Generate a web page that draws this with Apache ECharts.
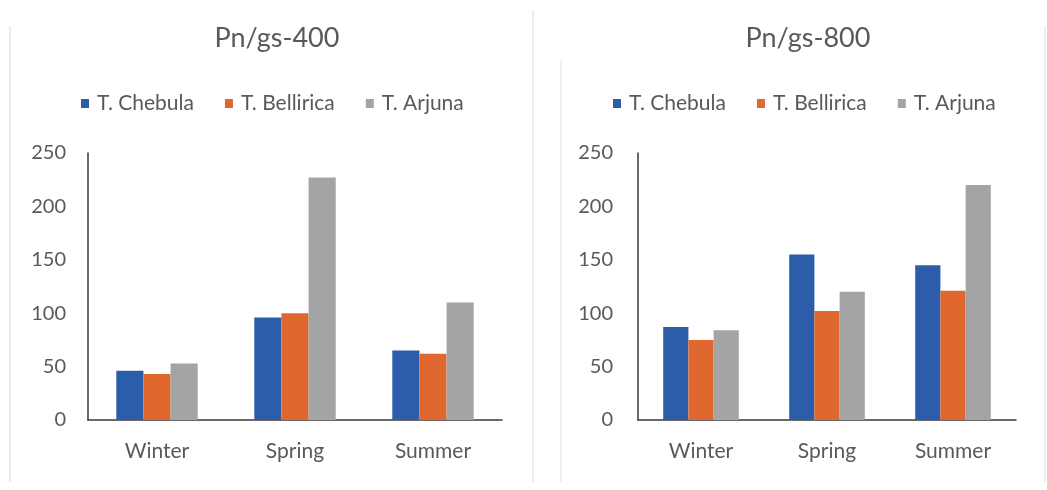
<!DOCTYPE html>
<html>
<head>
<meta charset="utf-8">
<script src="https://cdn.jsdelivr.net/npm/echarts@6/dist/echarts.min.js"></script>
<style>
  html, body { margin: 0; padding: 0; background: #ffffff; }
  #chart { width: 1047px; height: 490px; }
</style>
</head>
<body>
<div id="chart"></div>
<script>
// Seasons on the x axis
const seasons = ['Winter', 'Spring', 'Summer'];
const speciesNames = ['T. Chebula', 'T. Bellirica', 'T. Arjuna'];

// Pn/gs at 400
const chebula400 = [46, 96, 65];
const bellirica400 = [43, 100, 62];
const arjuna400 = [53, 227, 110];

// Pn/gs at 800
const chebula800 = [87, 155, 145];
const bellirica800 = [75, 102, 121];
const arjuna800 = [84, 120, 220];

const panelTitles = ['Pn/gs-400', 'Pn/gs-800'];
const yTicks = { min: 0, max: 250, interval: 50 };

const colors = ['#2c5dab', '#e0682f', '#a4a4a4'];
const textColor = '#595959';
const fontFamily = 'Lato, "Open Sans", sans-serif';

const grids = [
  { left: 88, right: 545, top: 153, bottom: 70 },
  { left: 638, right: 31, top: 153, bottom: 70 }
];
const panelCenters = [272, 803];
const legendLefts = [76, 608];

function xAxis(i) {
  return {
    type: 'category', gridIndex: i, data: seasons,
    axisLine: { lineStyle: { color: '#3a3a3a', width: 1.5 } },
    axisTick: { show: false },
    axisLabel: { color: textColor, fontSize: 21, fontFamily, margin: 21 }
  };
}
function yAxis(i) {
  return {
    type: 'value', gridIndex: i, min: yTicks.min, max: yTicks.max, interval: yTicks.interval,
    axisLine: { show: true, lineStyle: { color: '#3a3a3a', width: 1.5 } },
    axisTick: { show: false },
    splitLine: { show: false },
    axisLabel: { color: textColor, fontSize: 20, fontFamily, margin: i === 0 ? 22 : 25 }
  };
}
function bars(i, values, k) {
  return {
    type: 'bar', name: speciesNames[k], xAxisIndex: i, yAxisIndex: i,
    data: values, barGap: '0%', barCategoryGap: i === 0 ? '41%' : '40%',
    itemStyle: { color: colors[k] }
  };
}

const chart = echarts.init(document.getElementById('chart'), null, { renderer: 'canvas' });
chart.setOption({
  animation: false,
  backgroundColor: '#ffffff',
  color: colors,
  title: panelTitles.map((t, i) => ({
    text: t, left: panelCenters[i], top: 20, textAlign: 'center',
    textStyle: { color: textColor, fontSize: 27, fontWeight: 'normal', fontFamily }
  })),
  legend: [0, 1].map(i => ({
    data: speciesNames, left: legendLefts[i], top: 88,
    itemWidth: 8, itemHeight: 9, itemGap: 31, icon: 'rect',
    textStyle: { color: textColor, fontSize: 21, fontFamily, padding: [0, 0, 0, 3] }
  })),
  grid: grids,
  xAxis: [xAxis(0), xAxis(1)],
  yAxis: [yAxis(0), yAxis(1)],
  series: [
    bars(0, chebula400, 0), bars(0, bellirica400, 1), bars(0, arjuna400, 2),
    bars(1, chebula800, 0), bars(1, bellirica800, 1), bars(1, arjuna800, 2)
  ],
  graphic: [
    { type: 'line', shape: { x1: 10, y1: 26, x2: 10, y2: 482 }, style: { stroke: '#ececec', lineWidth: 2 } },
    { type: 'line', shape: { x1: 533, y1: 10, x2: 533, y2: 482 }, style: { stroke: '#ececec', lineWidth: 2 } },
    { type: 'line', shape: { x1: 561, y1: 60, x2: 561, y2: 482 }, style: { stroke: '#f0f0f0', lineWidth: 2 } },
    { type: 'line', shape: { x1: 1045, y1: 26, x2: 1045, y2: 482 }, style: { stroke: '#ececec', lineWidth: 2 } }
  ]
});
</script>
</body>
</html>
